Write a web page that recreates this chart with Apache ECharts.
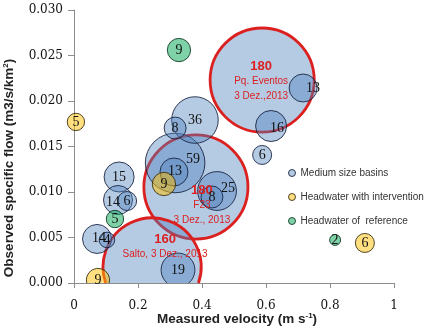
<!DOCTYPE html>
<html><head><meta charset="utf-8">
<script src="https://cdn.jsdelivr.net/npm/echarts@6/dist/echarts.min.js"></script>
<style>html,body{margin:0;padding:0;background:#fff}#c{width:430px;height:330px}</style>
</head><body><div id="c"></div>
<script>
// ---------- data ----------
const xTickLabels = ['0', '0.2', '0.4', '0.6', '0.8', '1'];
const yTickLabels = ['0.000', '0.005', '0.010', '0.015', '0.020', '0.025', '0.030'];
const seriesNames = ['Medium size basins', 'Headwater with intervention', 'Headwater of  reference'];

// [velocity, specific flow, bubble size]
const mediumBasins = [
  [0.588, 0.0223, 180],
  [0.381, 0.01055, 180],
  [0.244, 0.00176, 160],
  [0.316, 0.01319, 59],
  [0.378, 0.01791, 36],
  [0.447, 0.01011, 25],
  [0.325, 0.00143, 19],
  [0.616, 0.01725, 16],
  [0.141, 0.01165, 15],
  [0.1375, 0.00912, 14],
  [0.072, 0.00484, 14],
  [0.716, 0.02143, 13],
  [0.3125, 0.0122, 13],
  [0.316, 0.01703, 8],
  [0.431, 0.00945, 8],
  [0.588, 0.01407, 6],
  [0.166, 0.00901, 6],
  [0.103, 0.00473, 4]
];
const mediumEvents = ['Pq. Eventos|3 Dez.,2013', 'F23|3 Dez., 2013', 'Salto, 3 Dez., 2013'];
const headwaterIntervention = [
  [0.281, 0.01088, 9],
  [0.075, 0.00033, 9],
  [0.006, 0.0177, 5],
  [0.909, 0.0044, 6]
];
const headwaterReference = [
  [0.328, 0.0256, 9],
  [0.128, 0.00703, 5],
  [0.816, 0.00473, 2]
];

// ---------- styles ----------
const R_UNIT = 3.88; // px radius per sqrt(size)
const RED = '#dc1f1f';
const fills = ['rgba(79,129,189,0.42)', 'rgba(255,192,0,0.5)', 'rgba(0,166,81,0.5)'];
const strokes = ['rgba(20,30,60,0.85)', 'rgba(50,40,10,0.85)', 'rgba(10,50,30,0.85)'];
// label nudges (px) for medium basins, by index
const mediumNudge = {0: [-1, 1], 1: [6, 18], 2: [13, -20], 3: [18, -4], 5: [11, -3], 7: [6, 2], 9: [-5, 2], 10: [2, -1], 11: [10, 0], 12: [1, -1]};

const groups = [mediumBasins, headwaterIntervention, headwaterReference];

function bubbleRender(gi) {
  return function (params, api) {
    const c = api.coord([api.value(0), api.value(1)]);
    const r = R_UNIT * Math.sqrt(api.value(2));
    const hl = gi === 0 && params.dataIndex < mediumEvents.length;
    const stroke = hl ? RED : strokes[gi];
    const lw = hl ? 2.8 : 1;
    const yb = params.coordSys.y + params.coordSys.height;
    if (c[1] + r <= yb) {
      return {
        type: 'circle',
        shape: {cx: c[0], cy: c[1], r: r},
        style: {fill: fills[gi], stroke: stroke, lineWidth: lw}
      };
    }
    // clip the part of the bubble that falls below the x axis
    const dy = yb - c[1];
    const hw = Math.sqrt(Math.max(r * r - dy * dy, 0));
    const x1 = c[0] - hw, x2 = c[0] + hw;
    const large = dy > 0 ? 1 : 0;
    const arc = 'M' + x2 + ',' + yb + ' A' + r + ',' + r + ' 0 ' + large + ' 0 ' + x1 + ',' + yb;
    return {
      type: 'group',
      children: [
        {type: 'path', shape: {pathData: arc + ' Z'}, style: {fill: fills[gi], stroke: null}},
        {type: 'path', shape: {pathData: arc}, style: {fill: null, stroke: stroke, lineWidth: lw}}
      ]
    };
  };
}

// label items
const labelItems = [];
groups.forEach((g, gi) => g.forEach((p, i) => {
  labelItems.push({value: [p[0], p[1]], size: p[2], gi: gi, i: i});
}));

function labelRender(params, api) {
  const it = labelItems[params.dataIndex];
  const c = api.coord([api.value(0), api.value(1)]);
  let n = [0, 0];
  if (it.gi === 0 && mediumNudge[it.i]) n = mediumNudge[it.i];
  if (it.gi === 0 && it.i < mediumEvents.length) {
    const lines = mediumEvents[it.i].split('|').map(s => '{t|' + s + '}');
    return {
      type: 'text', x: c[0] + n[0], y: c[1] + n[1],
      style: {
        text: '{n|' + it.size + '}\n' + lines.join('\n'),
        align: 'center', verticalAlign: 'middle',
        rich: {
          n: {fontFamily: 'Liberation Sans', fontWeight: 'bold', fontSize: 13, fill: RED, lineHeight: 15, align: 'center'},
          t: {fontFamily: 'Liberation Sans', fontSize: 10, fill: RED, lineHeight: 15, align: 'center'}
        }
      }
    };
  }
  return {
    type: 'text', x: c[0] + n[0], y: c[1] + n[1],
    style: {
      text: String(it.size), align: 'center', verticalAlign: 'middle',
      fontFamily: 'Liberation Serif', fontSize: 14, fill: '#111'
    }
  };
}

const chart = echarts.init(document.getElementById('c'), null, {renderer: 'canvas'});
chart.setOption({
  animation: false,
  backgroundColor: '#fff',
  grid: {left: 74, right: 36, top: 10, bottom: 47, containLabel: false, outerBoundsMode: 'none'},
  xAxis: {
    type: 'value', min: 0, max: 1, interval: 0.2,
    splitLine: {show: false},
    axisLine: {lineStyle: {color: '#8c8c8c', width: 1}},
    axisTick: {show: true, inside: false, length: 5, lineStyle: {color: '#8c8c8c'}},
    axisLabel: {
      margin: 17, fontFamily: 'DejaVu Serif', fontSize: 12, color: '#111',
      formatter: (v) => xTickLabels[Math.round(v / 0.2)]
    }
  },
  yAxis: {
    type: 'value', min: 0, max: 0.03, interval: 0.005,
    splitLine: {show: false},
    axisLine: {show: true, lineStyle: {color: '#8c8c8c', width: 1}},
    axisTick: {show: true, inside: false, length: 6, lineStyle: {color: '#8c8c8c'}},
    axisLabel: {
      margin: 11, fontFamily: 'DejaVu Serif', fontSize: 12, color: '#111',
      formatter: (v) => yTickLabels[Math.round(v / 0.005)]
    }
  },
  legend: {
    orient: 'vertical', left: 288, top: 168, itemWidth: 7, itemHeight: 7, itemGap: 14,
    icon: 'circle', selectedMode: false, padding: 0,
    textStyle: {fontFamily: 'Liberation Sans', fontSize: 10, color: '#333'},
    data: seriesNames.map((nm, gi) => ({name: nm, itemStyle: {color: fills[gi], borderColor: strokes[gi], borderWidth: 1}}))
  },
  graphic: [
    {
      type: 'text', x: 237, y: 319,
      style: {
        text: '{b|Measured velocity (m s}{s|-1}{b|)}', align: 'center', verticalAlign: 'middle',
        rich: {
          b: {fontFamily: 'Liberation Sans', fontWeight: 'bold', fontSize: 13.5, fill: '#222'},
          s: {fontFamily: 'Liberation Sans', fontWeight: 'bold', fontSize: 8, fill: '#222', verticalAlign: 'top', lineHeight: 8}
        }
      }
    },
    {
      type: 'text', x: 9, y: 168, rotation: Math.PI / 2,
      style: {
        text: '{b|Observed specific flow (m3/s/km}{s|2}{b|)}', align: 'center', verticalAlign: 'middle',
        rich: {
          b: {fontFamily: 'Liberation Sans', fontWeight: 'bold', fontSize: 13.5, fill: '#222'},
          s: {fontFamily: 'Liberation Sans', fontWeight: 'bold', fontSize: 8, fill: '#222', verticalAlign: 'top', lineHeight: 8}
        }
      }
    }
  ],
  series: groups.map((g, gi) => ({
    type: 'custom', name: seriesNames[gi], z: 3, clip: false, silent: true,
    itemStyle: {color: fills[gi], borderColor: strokes[gi], borderWidth: 1},
    encode: {x: 0, y: 1},
    data: g,
    renderItem: bubbleRender(gi)
  })).concat([{
    type: 'custom', name: 'labels', z: 5, clip: false, silent: true,
    encode: {x: 0, y: 1},
    data: labelItems.map(it => it.value),
    renderItem: labelRender
  }])
});
</script></body></html>
